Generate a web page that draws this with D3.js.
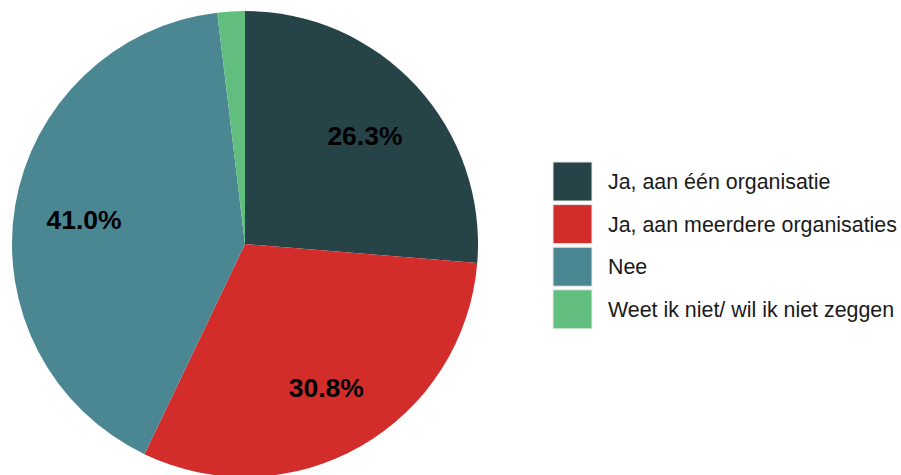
<!DOCTYPE html>
<html>
<head>
<meta charset="utf-8">
<script src="https://cdn.jsdelivr.net/npm/d3@7"></script>
<style>
  html, body { margin: 0; padding: 0; background: #ffffff; }
  svg { display: block; }
</style>
</head>
<body>
<svg id="chart" width="901" height="475"></svg>
<script>
// Answer categories and their shares (percent)
const categories = [
  "Ja, aan één organisatie",
  "Ja, aan meerdere organisaties",
  "Nee",
  "Weet ik niet/ wil ik niet zeggen"
];
const shares = [26.3, 30.8, 41.0, 1.9];
const labels = ["26.3%", "30.8%", "41.0%", ""];
const colors = ["#264348", "#D22C2B", "#4A8793", "#62BE7E"];

const svg = d3.select("#chart");
const cx = 245, cy = 244, radius = 233;

const data = categories.map((c, i) => ({ category: c, value: shares[i], label: labels[i] }));

const color = d3.scaleOrdinal().domain(categories).range(colors);

const pie = d3.pie().value(d => d.value).sort(null);
const arc = d3.arc().innerRadius(0).outerRadius(radius);
const labelArc = d3.arc().innerRadius(radius * 0.7).outerRadius(radius * 0.7);

const g = svg.append("g").attr("transform", `translate(${cx},${cy})`);
const arcs = pie(data);

g.selectAll("path.slice")
  .data(arcs)
  .join("path")
  .attr("class", "slice")
  .attr("d", arc)
  .attr("fill", d => color(d.data.category));

// Percentage labels, bold, centred on each slice
g.selectAll("text.pct")
  .data(arcs.filter(d => d.data.label))
  .join("text")
  .attr("class", "pct")
  .attr("transform", d => {
    const [x, y] = labelArc.centroid(d);
    return `translate(${x},${y + 2})`;
  })
  .attr("text-anchor", "middle")
  .attr("dy", "0.36em")
  .attr("font-family", "Liberation Sans, Arial, sans-serif")
  .attr("font-weight", "bold")
  .attr("font-size", 26.5)
  .attr("fill", "#000")
  .text(d => d.data.label);

// Legend
const legend = svg.append("g").attr("transform", "translate(553,162)");
const rowH = 42.6, sw = 39;
const rows = legend.selectAll("g.row")
  .data(categories)
  .join("g")
  .attr("class", "row")
  .attr("transform", (d, i) => `translate(0,${i * rowH})`);

rows.append("rect")
  .attr("width", sw)
  .attr("height", sw)
  .attr("fill", d => color(d))
  .attr("stroke", "#e8e8e8")
  .attr("stroke-width", 1);

rows.append("text")
  .attr("x", 55)
  .attr("y", sw / 2)
  .attr("dy", "0.36em")
  .attr("font-family", "Liberation Sans, Arial, sans-serif")
  .attr("font-size", 21.4)
  .attr("fill", "#1a1a1a")
  .text(d => d);
</script>
</body>
</html>
